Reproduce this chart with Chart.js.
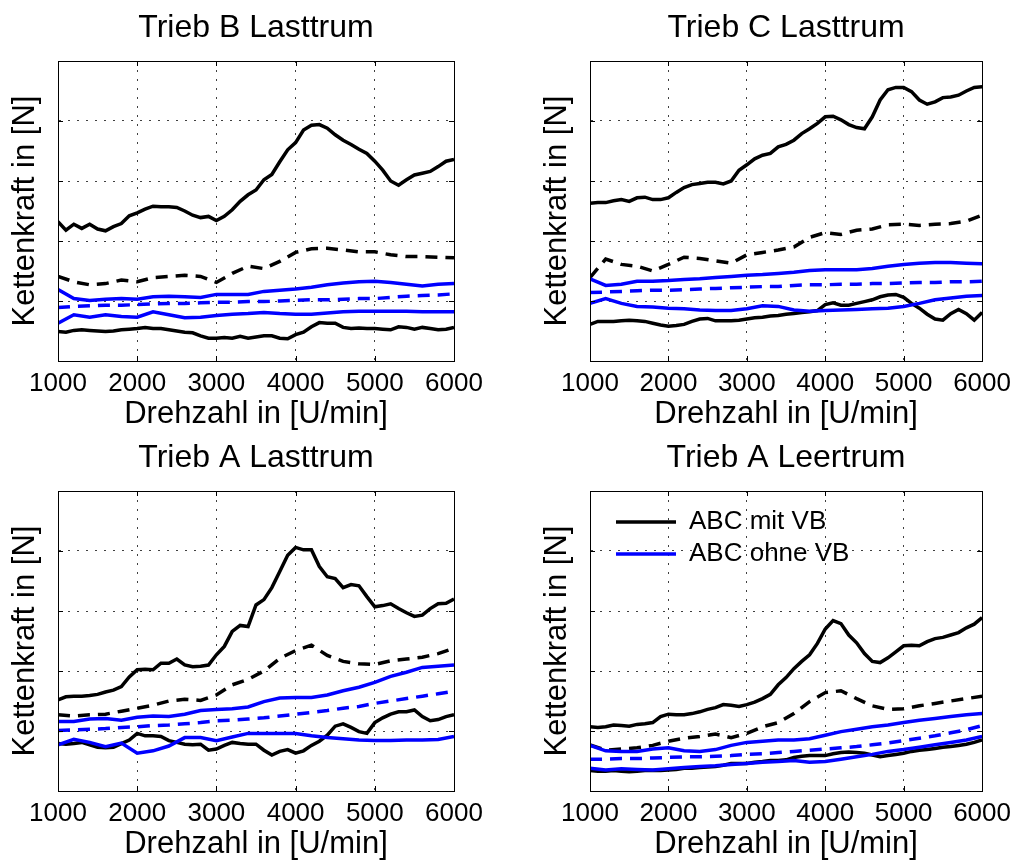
<!DOCTYPE html>
<html>
<head>
<meta charset="utf-8">
<script src="https://cdn.jsdelivr.net/npm/chart.js@4.4.1/dist/chart.umd.min.js"></script>
<style>
    html, body { margin: 0; padding: 0; background: #fff; overflow: hidden; }
    .panel { position: absolute; }
    .panel canvas { display: block; }
</style>
</head>
<body>
<div class="panel" style="left:0;top:0"><canvas id="chartBLast" width="509" height="430"></canvas></div>
<div class="panel" style="left:532px;top:0"><canvas id="chartCLast" width="486" height="430"></canvas></div>
<div class="panel" style="left:0;top:430px"><canvas id="chartALast" width="509" height="430"></canvas></div>
<div class="panel" style="left:532px;top:430px"><canvas id="chartALeer" width="486" height="430"></canvas></div>

<script>
// x values: fine grid for the jagged black envelopes, coarse grid for the rest
const rpmFine = [1000,1100,1200,1300,1400,1500,1600,1700,1800,1900,2000,2100,2200,2300,2400,2500,2600,2700,2800,2900,3000,3100,3200,3300,3400,3500,3600,3700,3800,3900,4000,4100,4200,4300,4400,4500,4600,4700,4800,4900,5000,5100,5200,5300,5400,5500,5600,5700,5800,5900,6000];
const rpmCoarse = [1000,1200,1400,1600,1800,2000,2200,2400,2600,2800,3000,3200,3400,3600,3800,4000,4200,4400,4600,4800,5000,5200,5400,5600,5800,6000];

const panelTitles = ['Trieb B Lasttrum', 'Trieb C Lasttrum', 'Trieb A Lasttrum', 'Trieb A Leertrum'];
const legendLabels = ['ABC mit VB', 'ABC ohne VB'];
const xAxisTitle = 'Drehzahl in [U/min]';
const yAxisTitle = 'Kettenkraft in [N]';

// Trieb B Lasttrum
const bMitMax = [2.32,2.18,2.28,2.21,2.28,2.20,2.17,2.24,2.29,2.42,2.47,2.53,2.58,2.57,2.57,2.56,2.50,2.43,2.39,2.41,2.34,2.41,2.52,2.66,2.77,2.85,3.02,3.11,3.32,3.52,3.64,3.85,3.93,3.94,3.88,3.77,3.68,3.61,3.53,3.46,3.33,3.18,3.00,2.93,3.02,3.10,3.13,3.16,3.24,3.33,3.36];
const bMitMean = [1.41,1.32,1.27,1.29,1.35,1.32,1.39,1.41,1.43,1.41,1.31,1.46,1.58,1.54,1.66,1.81,1.87,1.88,1.85,1.82,1.82,1.77,1.74,1.74,1.73,1.72];
const bMitMin = [0.49,0.48,0.51,0.52,0.51,0.50,0.49,0.50,0.52,0.53,0.54,0.56,0.54,0.54,0.52,0.50,0.48,0.47,0.42,0.38,0.38,0.39,0.38,0.41,0.38,0.40,0.42,0.42,0.38,0.37,0.44,0.48,0.57,0.64,0.63,0.63,0.56,0.54,0.55,0.54,0.54,0.53,0.52,0.57,0.56,0.53,0.56,0.54,0.52,0.53,0.56];
const bOhneMax = [1.19,1.04,1.01,1.03,1.04,1.03,1.07,1.08,1.07,1.06,1.11,1.11,1.11,1.16,1.18,1.20,1.23,1.27,1.30,1.32,1.33,1.31,1.28,1.25,1.28,1.29];
const bOhneMean = [0.89,0.91,0.92,0.93,0.93,0.94,0.95,0.96,0.96,0.97,0.98,0.98,0.99,0.99,1.00,1.01,1.02,1.02,1.03,1.04,1.04,1.06,1.08,1.09,1.10,1.12];
const bOhneMin = [0.63,0.77,0.73,0.77,0.74,0.73,0.82,0.77,0.72,0.73,0.76,0.78,0.79,0.81,0.79,0.78,0.78,0.80,0.82,0.83,0.83,0.83,0.83,0.82,0.82,0.82];

// Trieb C Lasttrum
const cMitMax = [2.63,2.64,2.64,2.67,2.69,2.66,2.72,2.73,2.69,2.69,2.72,2.81,2.89,2.94,2.96,2.98,2.98,2.95,3.00,3.18,3.27,3.37,3.43,3.46,3.57,3.61,3.68,3.79,3.87,3.96,4.07,4.08,4.02,3.94,3.89,3.87,4.07,4.35,4.52,4.56,4.56,4.49,4.35,4.28,4.32,4.39,4.40,4.43,4.50,4.56,4.57];
const cMitMean = [1.39,1.70,1.61,1.58,1.50,1.61,1.73,1.71,1.67,1.63,1.77,1.81,1.85,1.90,2.06,2.14,2.11,2.18,2.20,2.27,2.28,2.26,2.28,2.29,2.33,2.43];
const cMitMin = [0.61,0.66,0.66,0.66,0.67,0.68,0.67,0.66,0.63,0.60,0.58,0.59,0.61,0.66,0.70,0.71,0.67,0.67,0.67,0.68,0.70,0.72,0.73,0.75,0.76,0.78,0.79,0.81,0.82,0.84,0.94,0.97,0.93,0.93,0.96,0.99,1.02,1.07,1.10,1.11,1.06,0.96,0.88,0.78,0.70,0.68,0.79,0.86,0.79,0.68,0.81];
const cOhneMax = [1.37,1.26,1.28,1.33,1.33,1.34,1.36,1.37,1.39,1.41,1.43,1.44,1.46,1.48,1.51,1.52,1.52,1.52,1.54,1.58,1.61,1.63,1.64,1.64,1.63,1.62];
const cOhneMean = [1.14,1.15,1.16,1.17,1.18,1.18,1.19,1.20,1.21,1.22,1.23,1.24,1.24,1.26,1.27,1.27,1.28,1.28,1.29,1.29,1.30,1.31,1.31,1.32,1.32,1.33];
const cOhneMin = [0.96,1.04,0.96,0.91,0.90,0.88,0.87,0.85,0.84,0.84,0.87,0.92,0.91,0.85,0.83,0.84,0.85,0.86,0.87,0.88,0.91,0.96,1.02,1.05,1.08,1.09];

// Trieb A Lasttrum
const aLastMitMax = [1.52,1.57,1.58,1.58,1.59,1.61,1.65,1.68,1.74,1.90,2.02,2.03,2.02,2.13,2.13,2.20,2.10,2.07,2.08,2.10,2.27,2.41,2.66,2.76,2.74,3.10,3.19,3.39,3.66,3.93,4.06,4.02,4.02,3.74,3.57,3.54,3.39,3.44,3.42,3.24,3.07,3.09,3.12,3.04,2.97,2.91,2.93,3.04,3.12,3.13,3.20];
const aLastMitMean = [1.27,1.25,1.27,1.28,1.33,1.38,1.43,1.50,1.53,1.51,1.60,1.77,1.86,2.00,2.21,2.34,2.43,2.26,2.16,2.12,2.11,2.17,2.20,2.23,2.29,2.38];
const aLastMitMin = [0.79,0.78,0.79,0.81,0.77,0.73,0.72,0.73,0.79,0.85,0.96,0.92,0.92,0.91,0.84,0.81,0.78,0.77,0.78,0.68,0.70,0.76,0.81,0.79,0.78,0.78,0.68,0.60,0.66,0.69,0.63,0.67,0.76,0.83,0.93,1.08,1.12,1.06,0.99,0.96,1.14,1.22,1.28,1.32,1.32,1.35,1.24,1.17,1.19,1.24,1.27];
const aLastOhneMax = [1.16,1.16,1.20,1.21,1.18,1.23,1.25,1.24,1.28,1.34,1.36,1.37,1.40,1.49,1.55,1.56,1.56,1.60,1.67,1.73,1.81,1.91,1.98,2.06,2.08,2.10];
const aLastOhneMean = [1.01,1.02,1.03,1.04,1.06,1.07,1.09,1.10,1.12,1.14,1.17,1.18,1.20,1.22,1.25,1.28,1.31,1.34,1.38,1.41,1.46,1.50,1.54,1.58,1.62,1.66];
const aLastOhneMin = [0.77,0.86,0.81,0.74,0.80,0.63,0.67,0.75,0.89,0.89,0.84,0.90,0.96,0.96,0.96,0.96,0.92,0.89,0.87,0.85,0.84,0.84,0.85,0.85,0.86,0.91];

// Trieb A Leertrum
const aLeerMitMax = [1.07,1.06,1.07,1.10,1.09,1.08,1.11,1.12,1.14,1.24,1.28,1.27,1.27,1.29,1.32,1.36,1.39,1.44,1.43,1.41,1.44,1.48,1.54,1.61,1.77,1.89,2.04,2.16,2.27,2.46,2.70,2.84,2.79,2.60,2.47,2.29,2.16,2.14,2.22,2.32,2.42,2.43,2.42,2.49,2.54,2.56,2.60,2.64,2.72,2.78,2.89];
const aLeerMitMean = [0.77,0.68,0.70,0.72,0.76,0.83,0.88,0.91,0.95,0.89,0.96,1.07,1.14,1.29,1.49,1.64,1.67,1.54,1.42,1.36,1.37,1.42,1.46,1.50,1.54,1.58];
const aLeerMitMin = [0.34,0.33,0.33,0.34,0.33,0.32,0.33,0.34,0.34,0.34,0.35,0.36,0.38,0.38,0.39,0.40,0.41,0.43,0.46,0.46,0.46,0.48,0.49,0.51,0.51,0.52,0.56,0.58,0.59,0.59,0.59,0.62,0.64,0.65,0.64,0.63,0.60,0.57,0.59,0.61,0.63,0.66,0.68,0.69,0.71,0.73,0.74,0.76,0.78,0.81,0.85];
const aLeerOhneMax = [0.76,0.67,0.66,0.66,0.70,0.72,0.67,0.66,0.69,0.76,0.81,0.83,0.85,0.85,0.87,0.93,0.99,1.03,1.07,1.10,1.14,1.18,1.21,1.24,1.27,1.29];
const aLeerOhneMean = [0.53,0.53,0.54,0.54,0.55,0.56,0.57,0.57,0.58,0.59,0.61,0.62,0.64,0.66,0.68,0.70,0.72,0.74,0.77,0.80,0.84,0.88,0.92,0.97,1.02,1.09];
const aLeerOhneMin = [0.38,0.35,0.37,0.36,0.35,0.37,0.39,0.41,0.42,0.44,0.46,0.48,0.49,0.51,0.48,0.49,0.53,0.57,0.61,0.66,0.69,0.73,0.77,0.81,0.85,0.91];

Chart.defaults.font.family = '"Liberation Sans", Arial, sans-serif';
Chart.defaults.color = '#000';

const gridColor = 'rgba(0,0,0,0.75)';
const gridDash = [2, 7];

//one line dataset built from an x list and a y list
function makeLine(label, xs, ys, color, dashed, inLegend) {
    return {
        label: label,
        data: xs.map((x, i) => ({ x: x, y: ys[i] })),
        borderColor: color,
        backgroundColor: color,
        borderWidth: 3.5,
        borderDash: dashed ? [12, 8] : [],
        pointRadius: 0,
        tension: 0,
        fill: false,
        order: color === '#000000' ? 1 : 0,
        inLegend: inLegend
    };
}

//box around the plot and small inward ticks like the original
const frameTicks = {
    id: 'frameTicks',
    afterDatasetsDraw(chart) {
        const { ctx, chartArea: a, scales } = chart;
        ctx.save();
        ctx.strokeStyle = '#000';
        ctx.lineWidth = 1;
        ctx.setLineDash([]);
        ctx.beginPath();
        scales.x.ticks.forEach(t => {
            const px = Math.round(scales.x.getPixelForValue(t.value)) + 0.5;
            ctx.moveTo(px, a.bottom); ctx.lineTo(px, a.bottom - 5);
            ctx.moveTo(px, a.top); ctx.lineTo(px, a.top + 5);
        });
        scales.y.ticks.forEach(t => {
            const py = Math.round(scales.y.getPixelForValue(t.value)) + 0.5;
            ctx.moveTo(a.left, py); ctx.lineTo(a.left + 5, py);
            ctx.moveTo(a.right, py); ctx.lineTo(a.right - 5, py);
        });
        ctx.stroke();
        ctx.strokeRect(Math.round(a.left) + 0.5, Math.round(a.top) + 0.5,
            Math.round(a.right - a.left), Math.round(a.bottom - a.top));
        ctx.restore();
    }
};

//move the legend into the upper left corner of the plot
const legendSpot = {
    id: 'legendSpot',
    afterLayout(chart) {
        if (chart.options.plugins.legend.display) {
            chart.legend.left = chart.chartArea.left + 20;
            chart.legend.top = chart.chartArea.top + 12;
        }
    }
};

function renderPanel(canvasId, title, s, showLegend) {
    const canvas = document.getElementById(canvasId);
    const ctx = canvas.getContext('2d');

    return new Chart(ctx, {
        type: 'line',
        data: {
            datasets: [
                makeLine(legendLabels[0], rpmFine, s.mitMax, '#000000', false, true),
                makeLine(legendLabels[0] + ' Mittel', rpmCoarse, s.mitMean, '#000000', true, false),
                makeLine(legendLabels[0] + ' min', rpmFine, s.mitMin, '#000000', false, false),
                makeLine(legendLabels[1], rpmCoarse, s.ohneMax, '#0000ff', false, true),
                makeLine(legendLabels[1] + ' Mittel', rpmCoarse, s.ohneMean, '#0000ff', true, false),
                makeLine(legendLabels[1] + ' min', rpmCoarse, s.ohneMin, '#0000ff', false, false)
            ]
        },
        options: {
            responsive: false,
            animation: false,
            devicePixelRatio: 1,
            layout: { padding: { left: 0, top: 0, bottom: 0, right: canvas.width - 454 } },
            plugins: {
                title: {
                    display: true,
                    fullSize: false,
                    text: title,
                    color: '#000',
                    font: { size: 32, weight: 'normal', lineHeight: 1 },
                    padding: { top: 12, bottom: 17 }
                },
                legend: {
                    display: showLegend,
                    position: 'chartArea',
                    align: 'start',
                    fullSize: false,
                    labels: {
                        color: '#000',
                        font: { size: 26 },
                        usePointStyle: true,
                        pointStyle: 'line',
                        pointStyleWidth: 60,
                        padding: 6,
                        filter: (item, data) => data.datasets[item.datasetIndex].inLegend,
                        sort: (a, b) => a.datasetIndex - b.datasetIndex
                    }
                },
                tooltip: { enabled: false }
            },
            scales: {
                x: {
                    type: 'linear',
                    min: 1000,
                    max: 6000,
                    ticks: {
                        stepSize: 1000,
                        padding: 7,
                        maxRotation: 0,
                        color: '#000',
                        font: { size: 26 },
                        callback: v => String(v)
                    },
                    grid: { color: gridColor, lineWidth: 1, drawTicks: false },
                    border: { display: true, color: '#000', width: 1, dash: gridDash },
                    title: {
                        display: true,
                        text: xAxisTitle,
                        color: '#000',
                        font: { size: 31, lineHeight: 1 },
                        padding: { top: 0, bottom: 0 }
                    },
                    afterFit: scale => { scale.height = 69; }
                },
                y: {
                    min: 0,
                    max: 5,
                    ticks: { display: false, stepSize: 1 },
                    grid: { color: gridColor, lineWidth: 1, drawTicks: false },
                    border: { display: true, color: '#000', width: 1, dash: gridDash },
                    title: {
                        display: true,
                        text: yAxisTitle,
                        color: '#000',
                        font: { size: 31, lineHeight: 1 },
                        padding: { top: 10, bottom: 0 }
                    },
                    afterFit: scale => { scale.width = 58; }
                }
            }
        },
        plugins: [frameTicks, legendSpot]
    });
}

document.addEventListener('DOMContentLoaded', () => {
    renderPanel('chartBLast', panelTitles[0], {
        mitMax: bMitMax, mitMean: bMitMean, mitMin: bMitMin,
        ohneMax: bOhneMax, ohneMean: bOhneMean, ohneMin: bOhneMin
    }, false);
    renderPanel('chartCLast', panelTitles[1], {
        mitMax: cMitMax, mitMean: cMitMean, mitMin: cMitMin,
        ohneMax: cOhneMax, ohneMean: cOhneMean, ohneMin: cOhneMin
    }, false);
    renderPanel('chartALast', panelTitles[2], {
        mitMax: aLastMitMax, mitMean: aLastMitMean, mitMin: aLastMitMin,
        ohneMax: aLastOhneMax, ohneMean: aLastOhneMean, ohneMin: aLastOhneMin
    }, false);
    renderPanel('chartALeer', panelTitles[3], {
        mitMax: aLeerMitMax, mitMean: aLeerMitMean, mitMin: aLeerMitMin,
        ohneMax: aLeerOhneMax, ohneMean: aLeerOhneMean, ohneMin: aLeerOhneMin
    }, true);
});
</script>
</body>
</html>
